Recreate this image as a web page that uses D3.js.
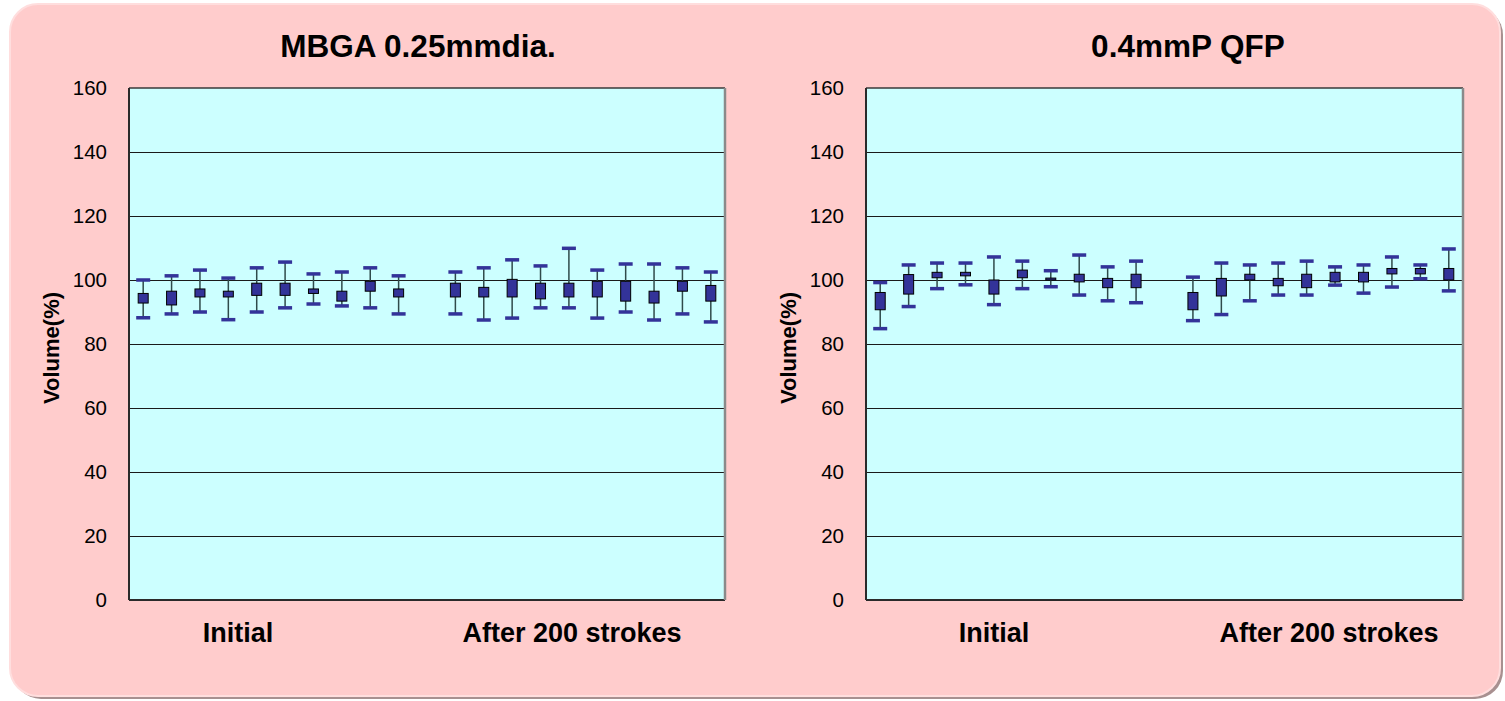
<!DOCTYPE html>
<html>
<head>
<meta charset="utf-8">
<script src="https://cdn.jsdelivr.net/npm/d3@7"></script>
<style>
  html, body { margin: 0; padding: 0; background: #ffffff; }
  svg { display: block; }
  text { font-family: Arial, "Liberation Sans", sans-serif; }
</style>
</head>
<body>
<svg id="chart" width="1505" height="701"></svg>
<script>
// ---------- data ----------
const categories = ["I1","I2","I3","I4","I5","I6","I7","I8","I9","I10","gap",
                    "A1","A2","A3","A4","A5","A6","A7","A8","A9","A10"];
const yTicks = [0, 20, 40, 60, 80, 100, 120, 140, 160];
const groupLabels = ["Initial", "After 200 strokes"];

// MBGA 0.25mmdia.
const mbgaHigh = [100.0,101.3,103.1,100.6,103.8,105.6,101.9,102.5,103.8,101.3,null,
                  102.5,103.8,106.3,104.4,109.9,103.1,105.0,105.0,103.8,102.5];
const mbgaQ3   = [95.8,96.5,97.2,96.5,99.0,99.0,97.2,96.5,99.6,97.2,null,
                  99.0,97.7,100.2,99.0,99.0,99.6,99.6,96.5,99.6,98.3];
const mbgaQ1   = [92.8,92.2,94.7,94.7,95.2,95.2,95.8,93.4,96.5,94.7,null,
                  94.7,94.7,94.7,94.1,94.7,94.7,93.4,92.8,96.5,93.4];
const mbgaLow  = [88.2,89.4,90.0,87.6,90.0,91.3,92.5,91.9,91.3,89.4,null,
                  89.4,87.5,88.1,91.3,91.3,88.1,90.0,87.5,89.4,86.9];

// 0.4mmP QFP
const qfpHigh = [99.2,104.7,105.3,105.3,107.2,105.9,102.9,107.8,104.1,105.9,null,
                 100.9,105.3,104.7,105.3,105.9,104.1,104.7,107.2,104.7,109.7];
const qfpQ3   = [96.1,101.7,102.4,102.4,100.0,103.1,100.6,101.8,100.5,101.8,null,
                 96.1,100.5,101.8,100.5,101.8,102.4,102.4,103.6,103.6,103.6];
const qfpQ1   = [90.7,95.6,100.7,101.3,95.6,100.7,100.0,99.4,97.6,97.6,null,
                 90.7,95.0,100.0,98.2,97.6,99.4,99.4,101.9,101.9,100.0];
const qfpLow  = [84.8,91.7,97.3,98.5,92.3,97.3,97.9,95.3,93.5,92.9,null,
                 87.3,89.2,93.5,95.3,95.3,98.4,95.9,97.8,100.4,96.6];

// ---------- drawing ----------
const svg = d3.select("#chart");

// outer rounded frame with shadow
svg.append("rect")
  .attr("x", 13).attr("y", 7).attr("width", 1490).attr("height", 692)
  .attr("rx", 28).attr("ry", 28)
  .attr("fill", "#a89090");
svg.append("rect")
  .attr("x", 10).attr("y", 4).attr("width", 1490).attr("height", 692)
  .attr("rx", 28).attr("ry", 28)
  .attr("fill", "#ffcccc")
  .attr("stroke", "#ffdede").attr("stroke-width", 2);

function drawChart(cfg) {
  const g = svg.append("g");
  const x = d3.scaleBand().domain(categories).range([cfg.left, cfg.right]);
  const y = d3.scaleLinear().domain([0, 160]).range([cfg.bottom, cfg.top]);

  // plot background
  g.append("rect")
    .attr("x", cfg.left).attr("y", y(160))
    .attr("width", cfg.right - cfg.left).attr("height", y(0) - y(160))
    .attr("fill", "#ccffff");

  // gridlines
  g.append("g")
    .attr("transform", `translate(${cfg.left},0)`)
    .call(d3.axisLeft(y).tickValues(yTicks.filter(t => t > 0 && t < 160))
      .tickSize(-(cfg.right - cfg.left)).tickFormat(""))
    .call(s => s.select(".domain").remove())
    .call(s => s.selectAll("line").attr("stroke", "#1a1a1a").attr("stroke-width", 1));

  // plot border
  g.append("line").attr("x1", cfg.left).attr("x2", cfg.right)
    .attr("y1", y(160)).attr("y2", y(160)).attr("stroke", "#3a3a3a").attr("stroke-width", 1.5);
  g.append("line").attr("x1", cfg.left).attr("x2", cfg.right)
    .attr("y1", y(0)).attr("y2", y(0)).attr("stroke", "#2a2a2a").attr("stroke-width", 2);
  g.append("line").attr("x1", cfg.left).attr("x2", cfg.left)
    .attr("y1", y(160)).attr("y2", y(0)).attr("stroke", "#2a2a2a").attr("stroke-width", 2);
  g.append("line").attr("x1", cfg.right).attr("x2", cfg.right)
    .attr("y1", y(160)).attr("y2", y(0)).attr("stroke", "#8a8a8a").attr("stroke-width", 2.5);

  // y axis labels
  g.append("g")
    .attr("transform", `translate(${cfg.left},0)`)
    .call(d3.axisLeft(y).tickValues(yTicks).tickSize(0).tickPadding(22))
    .call(s => s.select(".domain").remove())
    .call(s => s.selectAll("text")
      .attr("font-family", "Arial, 'Liberation Sans', sans-serif")
      .attr("font-size", 20.5).attr("fill", "#000"));

  // box plot marks
  const rows = categories.map((c, i) => ({
    c, high: cfg.high[i], q3: cfg.q3[i], q1: cfg.q1[i], low: cfg.low[i]
  })).filter(d => d.high != null);

  const cx = d => x(d.c) + x.bandwidth() / 2;
  const marks = g.append("g");

  marks.selectAll("line.whisker").data(rows).join("line")
    .attr("class", "whisker")
    .attr("x1", cx).attr("x2", cx)
    .attr("y1", d => y(d.high)).attr("y2", d => y(d.low))
    .attr("stroke", "#2f4a4a").attr("stroke-width", 1.5);

  const capW = 14, capH = 3.5, boxW = 10;
  marks.selectAll("rect.capHigh").data(rows).join("rect")
    .attr("class", "capHigh")
    .attr("x", d => cx(d) - capW / 2).attr("y", d => y(d.high) - capH / 2)
    .attr("width", capW).attr("height", capH).attr("fill", "#333399");
  marks.selectAll("rect.capLow").data(rows).join("rect")
    .attr("class", "capLow")
    .attr("x", d => cx(d) - capW / 2).attr("y", d => y(d.low) - capH / 2)
    .attr("width", capW).attr("height", capH).attr("fill", "#333399");

  marks.selectAll("rect.box").data(rows).join("rect")
    .attr("class", "box")
    .attr("x", d => cx(d) - boxW / 2).attr("y", d => y(d.q3))
    .attr("width", boxW).attr("height", d => Math.max(1, y(d.q1) - y(d.q3)))
    .attr("fill", "#333399").attr("stroke", "#000").attr("stroke-width", 1);

  // title
  g.append("text")
    .attr("x", cfg.titleX).attr("y", 57)
    .attr("text-anchor", "middle")
    .attr("font-size", 31.5).attr("font-weight", "bold").attr("fill", "#000")
    .text(cfg.title);

  // y axis title
  g.append("text")
    .attr("transform", `translate(${cfg.yTitleX},${(y(0) + y(160)) / 2 + 4}) rotate(-90)`)
    .attr("text-anchor", "middle")
    .attr("font-size", 22).attr("font-weight", "bold").attr("fill", "#000")
    .text("Volume(%)");

  // group labels
  groupLabels.forEach((lab, i) => {
    g.append("text")
      .attr("x", cfg.groupX[i]).attr("y", 642)
      .attr("text-anchor", "middle")
      .attr("font-size", 27).attr("font-weight", "bold").attr("fill", "#000")
      .text(lab);
  });
}

drawChart({
  left: 129, right: 725, top: 88, bottom: 600,
  title: "MBGA 0.25mmdia.", titleX: 418, yTitleX: 59,
  groupX: [238, 572],
  high: mbgaHigh, q3: mbgaQ3, q1: mbgaQ1, low: mbgaLow
});
drawChart({
  left: 866, right: 1463, top: 88, bottom: 600,
  title: "0.4mmP QFP", titleX: 1188, yTitleX: 796,
  groupX: [994, 1329],
  high: qfpHigh, q3: qfpQ3, q1: qfpQ1, low: qfpLow
});
</script>
</body>
</html>
